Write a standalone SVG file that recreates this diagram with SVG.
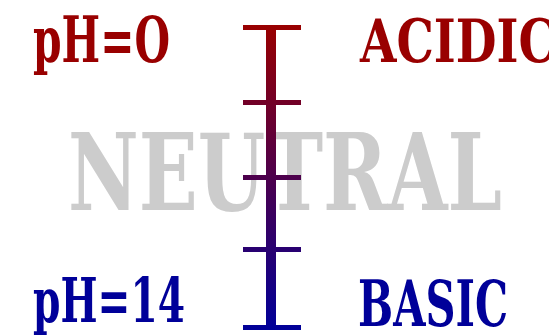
<svg xmlns="http://www.w3.org/2000/svg" width="549" height="335" viewBox="0 0 549 335">
  <defs>
    <linearGradient id="scaleGrad" gradientUnits="userSpaceOnUse" x1="0" y1="25" x2="0" y2="330">
      <stop offset="0" stop-color="#990000"/>
      <stop offset="1" stop-color="#000099"/>
    </linearGradient>
  </defs>
  <style>
    .lbl { font-family: "DejaVu Serif", "Liberation Serif", serif; font-weight: bold; }
    .acid { fill: #990000; }
    .base { fill: #000099; }
    .neutral { fill: #cccccc; }
    .scale { fill: url(#scaleGrad); }
  </style>
  <rect width="549" height="335" fill="#ffffff"/>
  <g id="neutral-label">
    <text class="lbl neutral" x="68" y="210" font-size="106" textLength="434" lengthAdjust="spacingAndGlyphs">NEUTRAL</text>
  </g>
  <g id="ph0-label">
    <text class="lbl acid" x="33" y="62" font-size="63" textLength="137" lengthAdjust="spacingAndGlyphs">pH=O</text>
  </g>
  <g id="acidic-label">
    <text class="lbl acid" x="360" y="62" font-size="60" textLength="196" lengthAdjust="spacingAndGlyphs">ACIDIC</text>
  </g>
  <g id="ph14-label">
    <text class="lbl base" x="33" y="322" font-size="62" textLength="152" lengthAdjust="spacingAndGlyphs">pH=14</text>
  </g>
  <g id="basic-label">
    <text class="lbl base" x="358" y="326" font-size="63" textLength="150" lengthAdjust="spacingAndGlyphs">BASIC</text>
  </g>
  <g id="scale">
    <rect class="scale" x="266" y="25" width="10" height="305"/>
    <rect class="scale" x="243" y="25" width="58" height="5"/>
    <rect class="scale" x="243" y="100" width="58" height="5"/>
    <rect class="scale" x="243" y="175" width="58" height="5"/>
    <rect class="scale" x="243" y="247" width="58" height="5"/>
    <rect class="scale" x="243" y="325" width="58" height="5"/>
  </g>
</svg>
